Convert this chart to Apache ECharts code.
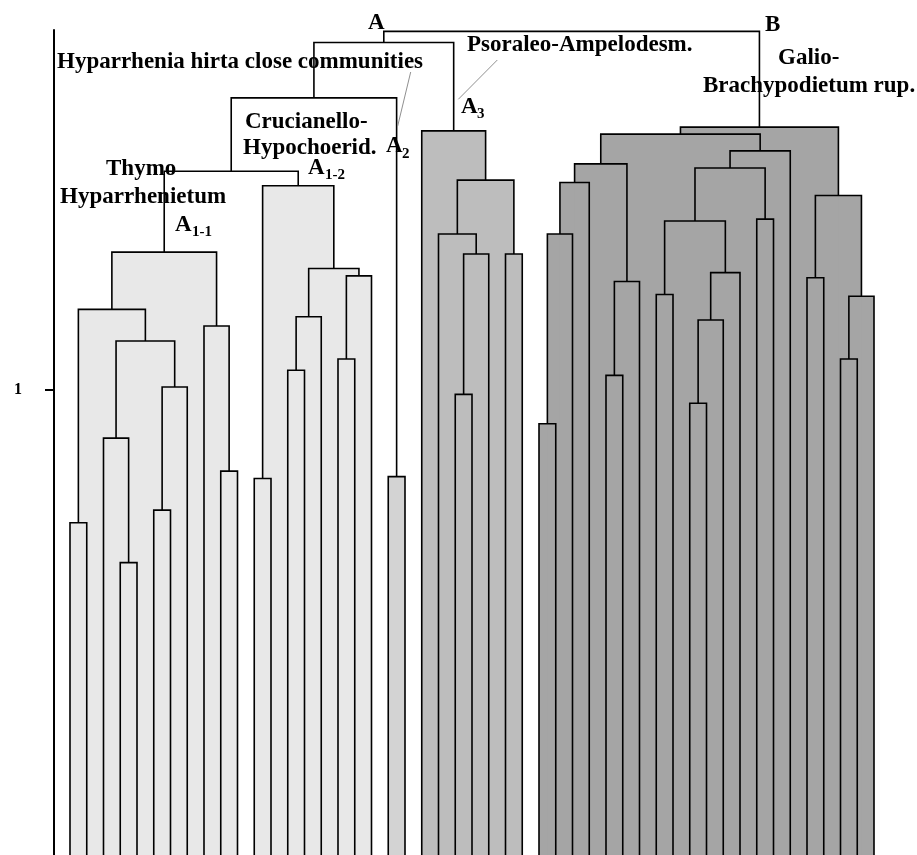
<!DOCTYPE html>
<html><head><meta charset="utf-8">
<script src="https://cdn.jsdelivr.net/npm/echarts@6/dist/echarts.min.js"></script>
<style>html,body{margin:0;padding:0;background:#fff}#c{width:917px;height:855px}</style>
</head><body><div id="c"></div><script>
// ---- data: leaves 0..48, merge k gets node id 49+k (linkage style) ----
const leafCount = 49;
const mergeLeft = [0,3,2,5,52,51,49,9,8,55, 11,13,60,16,62,61,59, 58, 19, 66, 23,69,22,26,71,21, 68,
  28,76,77,32,79,78,35,37,83,84,82,41,86,88,81,44,46,92,91,90, 75];
const mergeRight = [1,4,50,6,7,53,54,10,56,57, 12,14,15,17,18,63,64, 65, 20, 67, 24,25,70,27,72,73, 74,
  29,30,31,33,34,80,36,38,39,40,85,42,87,43,89,45,47,48,93,94, 95];
const mergeHeight = [0.715,0.629,0.897,0.742,1.007,1.106,1.174,0.826,1.138,1.297,
  0.810,1.043,1.158,1.067,1.246,1.262,1.440, 1.471, 0.814, 1.629,
  0.991,1.293,1.336,1.293,1.452,1.558, 1.748,
  0.928,1.336,1.447,1.032,1.234,1.487,1.206,0.972,1.151,1.253,1.364,1.368,1.478,1.515,1.551,1.242,1.067,1.202,1.419,1.566,
  1.772];
const mergeGroup = ['A1','A1','A1','A1','A1','A1','A1','A1','A1','A1',
  'A1','A1','A1','A1','A1','A1','A1', '', 'A2', '',
  'A3','A3','A3','A3','A3','A3', '',
  'B','B','B','B','B','B','B','B','B','B','B','B','B','B','B','B','B','B','B','B', ''];
const yTickValues = [1];
const yTickLabels = ['1'];

const groupColors = {A1:'#e8e8e8', A2:'#d3d3d3', A3:'#bdbdbd', B:'#a5a5a5'};

// ---- tree layout in data units ----
const nodeX = [], nodeH = [];
for (let i = 0; i < leafCount; i++) { nodeX[i] = i; nodeH[i] = 0; }
mergeLeft.forEach((l, k) => {
  const r = mergeRight[k], id = leafCount + k;
  nodeX[id] = (nodeX[l] + nodeX[r]) / 2;
  nodeH[id] = mergeHeight[k];
});
const fillData = [], fillColors = [], linkData = [];
mergeLeft.forEach((l, k) => {
  const r = mergeRight[k];
  if (mergeGroup[k]) { fillData.push([nodeX[l], nodeX[r], mergeHeight[k]]); fillColors.push(groupColors[mergeGroup[k]]); }
  linkData.push([nodeX[l], nodeH[l], nodeX[r], nodeH[r], mergeHeight[k]]);
});

const serif = 'Liberation Serif';
function txt(x, y, text, size) {
  return {type:'text', x:x, y:y, z:10, style:{text:text, fill:'#000', font:'bold ' + (size||23) + 'px "' + serif + '"', textAlign:'left', textVerticalAlign:'middle', verticalAlign:'middle'}};
}
function lead(x1, y1, x2, y2) {
  return {type:'line', z:9, shape:{x1:x1,y1:y1,x2:x2,y2:y2}, style:{stroke:'#909090', lineWidth:1}};
}

const chart = echarts.init(document.getElementById('c'), null, {renderer:'canvas'});
chart.setOption({
  animation:false,
  backgroundColor:'#fff',
  grid:{left:54, right:0, top:30, bottom:0, containLabel:false},
  xAxis:{type:'value', min:-0.955, max:50.567, show:false},
  yAxis:{type:'value', min:0, max:1.775, interval:1,
    axisLine:{show:true, onZero:false, lineStyle:{color:'#000', width:2}},
    axisTick:{show:true, length:9, customValues:yTickValues, lineStyle:{color:'#000', width:2}},
    splitLine:{show:false},
    axisLabel:{margin:32, color:'#000', fontFamily:serif, fontWeight:'bold', fontSize:16,
      customValues:yTickValues,
      formatter:function(v){ const i = yTickValues.indexOf(v); return i >= 0 ? yTickLabels[i] : ''; }}
  },
  series:[
    {type:'custom', silent:true, clip:false, z:1, data:fillData,
      renderItem:function(params, api){
        const p = api.coord([api.value(0), api.value(2)]);
        const q = api.coord([api.value(1), 0]);
        return {type:'rect', shape:{x:p[0], y:p[1], width:q[0]-p[0], height:q[1]-p[1]},
          style:{fill:fillColors[params.dataIndex], stroke:null}};
      }},
    {type:'custom', silent:true, clip:false, z:2, data:linkData,
      renderItem:function(params, api){
        const a = api.coord([api.value(0), api.value(1)]);
        const b = api.coord([api.value(0), api.value(4)]);
        const c = api.coord([api.value(2), api.value(4)]);
        const d = api.coord([api.value(2), api.value(3)]);
        return {type:'polyline', shape:{points:[a,b,c,d]}, style:{stroke:'#000', lineWidth:1.6, fill:null}};
      }}
  ],
  graphic:[
    txt(368, 23, 'A'),
    txt(765, 25, 'B'),
    txt(57, 62, 'Hyparrhenia hirta close communities'),
    txt(467, 45, 'Psoraleo-Ampelodesm.'),
    txt(778, 58, 'Galio-'),
    txt(703, 86, 'Brachypodietum rup.'),
    txt(461, 107, 'A'), txt(477, 114, '3', 15),
    txt(245, 122, 'Crucianello-'),
    txt(243, 148, 'Hypochoerid.'),
    txt(386, 146, 'A'), txt(402, 154, '2', 15),
    txt(308, 168, 'A'), txt(325, 175, '1-2', 15),
    txt(106, 169, 'Thymo'),
    txt(60, 197, 'Hyparrhenietum'),
    txt(175, 225, 'A'), txt(192, 232, '1-1', 15),
    lead(410.7, 72, 397.7, 126),
    lead(497.3, 60, 458.3, 99.3)
  ]
});
</script></body></html>
